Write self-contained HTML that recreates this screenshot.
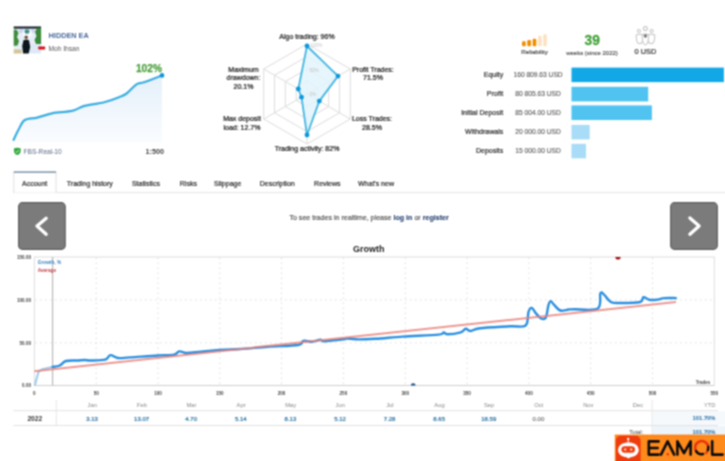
<!DOCTYPE html>
<html><head><meta charset="utf-8"><style>
html,body{margin:0;padding:0;background:#fff;}
body{width:725px;height:461px;overflow:hidden;position:relative;font-family:"Liberation Sans",sans-serif;}
svg{position:absolute;left:0;top:0;}
svg text{font-family:"Liberation Sans",sans-serif;}
</style></head><body>
<svg width="725" height="461" viewBox="0 0 725 461">
<filter id="gb" x="0" y="0" width="725" height="461" filterUnits="userSpaceOnUse" color-interpolation-filters="sRGB"><feConvolveMatrix order="3" kernelMatrix="1 2 1 2 4 2 1 2 1" divisor="16" edgeMode="duplicate" preserveAlpha="false"/></filter>
<g filter="url(#gb)">
<rect x="0" y="0" width="725" height="461" fill="#fff"/>
<defs>
<linearGradient id="mg" x1="0" y1="0" x2="0" y2="1"><stop offset="0" stop-color="#e4f0fa"/><stop offset="1" stop-color="#fafcff"/></linearGradient>
<linearGradient id="og" x1="0" y1="0" x2="1" y2="0"><stop offset="0" stop-color="#ff6a10"/><stop offset="1" stop-color="#ff8a1e"/></linearGradient>
</defs>
<!-- avatar -->
<defs><filter id="avb" x="-10%" y="-10%" width="120%" height="120%"><feGaussianBlur stdDeviation="0.7"/></filter>
<clipPath id="avc"><rect x="13.7" y="26.4" width="27.4" height="27"/></clipPath></defs>
<g clip-path="url(#avc)"><g filter="url(#avb)">
<rect x="12" y="25" width="31" height="30" fill="#e6eef7"/>
<rect x="12" y="25" width="31" height="3.6" fill="#151b2a"/>
<path d="M12,30 L16.5,29.5 L18.5,33 L17,37 L19,41 L17.5,45.5 L12,46 Z" fill="#3f8d3b"/>
<path d="M43,27.5 L37,28 L35,32 L36.5,36 L34.5,40 L36,44 L43,44 Z" fill="#3b893a"/>
<ellipse cx="23" cy="31" rx="4.5" ry="2.2" fill="#c8d6ea"/>
<ellipse cx="31.5" cy="31" rx="3.5" ry="2.2" fill="#c8d6ea"/>
<ellipse cx="27.3" cy="33.5" rx="5" ry="4.5" fill="#f6f9fc"/>
<ellipse cx="27" cy="31.5" rx="2.5" ry="2.2" fill="#3a9088"/>
<rect x="12" y="49.5" width="9.5" height="5" fill="#d4c496"/>
<rect x="29.5" y="44" width="13.5" height="10" fill="#dde9f4"/>
<path d="M23.5,40.3 Q26.3,38.6 29,40.3 L30.2,47 L28.5,54 L23.2,54 L22.2,46 Z" fill="#0f121a"/>
<circle cx="26.2" cy="37.3" r="1.7" fill="#6e4e3a"/>
</g></g>
<rect x="38.2" y="46.6" width="7" height="2.8" rx="0.8" fill="#d8101c"/>
<text x="48.6" y="37.8" font-size="7.3" font-weight="700" fill="#4a6a9b">HIDDEN EA</text>
<text x="48.6" y="51.4" font-size="6.6" fill="#555">Moh Ihsan</text>
<!-- mini chart -->
<path d="M13.6,139.9 C14.4,138.2 16.7,132.8 18.6,129.5 C20.5,126.2 21.7,122.0 24.8,120.0 C27.9,118.0 32.7,118.7 37.2,117.6 C41.8,116.5 46.3,114.4 52.1,113.3 C57.9,112.2 66.6,112.1 72.0,110.9 C77.4,109.7 79.0,107.4 84.4,105.9 C89.8,104.5 98.4,103.7 104.2,102.2 C110.0,100.8 115.3,98.7 119.0,97.2 C122.7,95.8 123.7,95.7 126.6,93.5 C129.5,91.3 133.6,86.2 136.5,84.3 C139.4,82.4 139.8,83.8 144.0,82.3 C148.2,80.8 158.8,76.6 161.8,75.4 L161.8,142.5 L13.6,142.5 Z" fill="url(#mg)"/>
<path d="M13.6,139.9 C14.4,138.2 16.7,132.8 18.6,129.5 C20.5,126.2 21.7,122.0 24.8,120.0 C27.9,118.0 32.7,118.7 37.2,117.6 C41.8,116.5 46.3,114.4 52.1,113.3 C57.9,112.2 66.6,112.1 72.0,110.9 C77.4,109.7 79.0,107.4 84.4,105.9 C89.8,104.5 98.4,103.7 104.2,102.2 C110.0,100.8 115.3,98.7 119.0,97.2 C122.7,95.8 123.7,95.7 126.6,93.5 C129.5,91.3 133.6,86.2 136.5,84.3 C139.4,82.4 139.8,83.8 144.0,82.3 C148.2,80.8 158.8,76.6 161.8,75.4" fill="none" stroke="#3aaee0" stroke-width="2.2" stroke-linecap="round"/>
<circle cx="162" cy="75.4" r="2.3" fill="#1592dc"/>
<text x="162" y="71.8" text-anchor="end" font-size="10.2" font-weight="700" fill="#4da03f" stroke="#4da03f" stroke-width="0.25">102%</text>
<path d="M13.9,148.6 Q17.3,146.9 20.7,148.6 L20.7,150.8 Q20.5,154.2 17.3,155 Q14.1,154.2 13.9,150.8 Z" fill="#30a83a"/>
<path d="M15.6,151.3 L16.9,152.5 L18.9,150" fill="none" stroke="#dff5df" stroke-width="0.9"/>
<text x="23.6" y="153.7" font-size="6.6" fill="#5b6785">FBS-Real-10</text>
<text x="164" y="154.3" text-anchor="end" font-size="7.2" font-weight="700" fill="#444">1:500</text>
<!-- radar -->
<polygon points="307.0,44.0 350.3,69.0 350.3,119.0 307.0,144.0 263.7,119.0 263.7,69.0" fill="none" stroke="#dcdcdc" stroke-width="1"/><polygon points="307.0,56.5 339.5,75.2 339.5,112.8 307.0,131.5 274.5,112.8 274.5,75.2" fill="none" stroke="#dcdcdc" stroke-width="1"/><polygon points="307.0,69.0 328.7,81.5 328.7,106.5 307.0,119.0 285.3,106.5 285.3,81.5" fill="none" stroke="#dcdcdc" stroke-width="1"/><polygon points="307.0,81.5 317.8,87.8 317.8,100.2 307.0,106.5 296.2,100.2 296.2,87.8" fill="none" stroke="#dcdcdc" stroke-width="1"/><line x1="307" y1="94" x2="307.0" y2="44.0" stroke="#dcdcdc" stroke-width="1"/><line x1="307" y1="94" x2="350.3" y2="69.0" stroke="#dcdcdc" stroke-width="1"/><line x1="307" y1="94" x2="350.3" y2="119.0" stroke="#dcdcdc" stroke-width="1"/><line x1="307" y1="94" x2="307.0" y2="144.0" stroke="#dcdcdc" stroke-width="1"/><line x1="307" y1="94" x2="263.7" y2="119.0" stroke="#dcdcdc" stroke-width="1"/><line x1="307" y1="94" x2="263.7" y2="69.0" stroke="#dcdcdc" stroke-width="1"/>
<polygon points="307.0,46.0 338.0,76.1 319.3,101.1 307.0,135.0 301.5,97.2 298.3,89.0" fill="#e2f4fc" fill-opacity="0.85" stroke="#45b6e0" stroke-width="1.8" stroke-linejoin="round"/>
<g font-size="4.6" fill="#c4c4c4" text-anchor="start"><text x="310.5" y="46.5">100%</text><text x="309.5" y="72">50%</text><text x="309.5" y="95.5">0%</text></g>
<circle cx="307.0" cy="46.0" r="2.4" fill="#0b98dd"/><circle cx="338.0" cy="76.1" r="2.4" fill="#0b98dd"/><circle cx="319.3" cy="101.1" r="2.4" fill="#0b98dd"/><circle cx="307.0" cy="135.0" r="2.4" fill="#0b98dd"/><circle cx="301.5" cy="97.2" r="2.4" fill="#0b98dd"/><circle cx="298.3" cy="89.0" r="2.4" fill="#0b98dd"/>
<g font-size="7" fill="#222" stroke="#222" stroke-width="0.24" text-anchor="middle">
<text x="307" y="38.5">Algo trading: 96%</text>
<text x="243.5" y="72">Maximum</text><text x="243.5" y="80.2">drawdown:</text><text x="243.5" y="89">20.1%</text>
<text x="242" y="120.5">Max deposit</text><text x="242" y="129.5">load: 12.7%</text>
<text x="373" y="72">Profit Trades:</text><text x="373" y="80.2">71.5%</text>
<text x="372" y="120.5">Loss Trades:</text><text x="372" y="129.5">28.5%</text>
<text x="307" y="150.5">Trading activity: 82%</text>
</g>
<!-- reliability -->
<g>
<rect x="522" y="41.3" width="3.7" height="4.9" rx="1.2" fill="#f08c00"/>
<rect x="527.3" y="40" width="3.7" height="6.2" rx="1.2" fill="#f08c00"/>
<rect x="532.6" y="38.7" width="3.7" height="7.5" rx="1.2" fill="#f08c00"/>
<rect x="538" y="35.8" width="3.7" height="10.4" rx="1.2" fill="#fde2c2"/>
<rect x="543.2" y="34.2" width="3.7" height="12" rx="1.2" fill="#fde2c2"/>
</g>
<text x="534.5" y="54.2" text-anchor="middle" font-size="6.2" fill="#444" stroke="#444" stroke-width="0.15">Reliability</text>
<text x="592.3" y="45.4" text-anchor="middle" font-size="13.8" font-weight="700" fill="#43a13a" stroke="#43a13a" stroke-width="0.3">39</text>
<text x="592" y="54.5" text-anchor="middle" font-size="6" fill="#444" stroke="#444" stroke-width="0.12">weeks (since 2022)</text>
<g fill="none" stroke="#c4c4c4" stroke-width="1.05">
<circle cx="645.4" cy="28.6" r="2"/>
<circle cx="638.9" cy="31" r="1.55"/>
<circle cx="651.6" cy="31" r="1.55"/>
<path d="M636.2,35 Q639.8,33.6 643.2,35 C643.2,40 641.8,43.8 639.7,43.8 C637.6,43.8 636.2,40 636.2,35 Z"/>
<path d="M647.6,35 Q651.2,33.6 654.8,35 C654.8,40 653.4,43.8 651.2,43.8 C649,43.8 647.6,40 647.6,35 Z"/>
<path d="M642.2,34.8 Q645.4,33.4 648.6,34.8 C648.6,40.5 647.4,44.8 645.4,44.8 C643.4,44.8 642.2,40.5 642.2,34.8 Z" fill="#fff"/>
</g>
<circle cx="645.4" cy="36" r="1.7" fill="#777"/>
<text x="645.5" y="54.3" text-anchor="middle" font-size="7.4" fill="#333" stroke="#333" stroke-width="0.2">0 USD</text>
<!-- bars -->
<g font-size="7" fill="#333" stroke="#333" stroke-width="0.22" text-anchor="end">
<text x="503.2" y="77.2">Equity</text><text x="503.2" y="96.3">Profit</text><text x="503.2" y="115">Initial Deposit</text><text x="503.2" y="134">Withdrawals</text><text x="503.2" y="153">Deposits</text>
</g>
<g font-size="6.65" fill="#555" stroke="#555" stroke-width="0.1">
<text x="513.5" y="77.2">160 809.63 USD</text><text x="515.3" y="96.3">80 805.63 USD</text><text x="515.3" y="115">85 004.00 USD</text><text x="515.3" y="134">20 000.00 USD</text><text x="515.3" y="153">15 000.00 USD</text>
</g>
<rect x="571.5" y="67.6" width="152.4" height="14.5" fill="#12a8e8"/>
<rect x="571.5" y="86.8" width="76.7" height="14.6" fill="#50c3f0"/>
<rect x="571.5" y="105.4" width="80.4" height="14.6" fill="#50c3f0"/>
<rect x="571.5" y="124.9" width="18.2" height="14.5" fill="#a8dcf7"/>
<rect x="571.5" y="143.8" width="14.5" height="14.5" fill="#a8dcf7"/>
<!-- tabs -->
<line x1="13" y1="192.6" x2="725" y2="192.6" stroke="#e4e4e4" stroke-width="1"/>
<path d="M13.8,192.6 L13.8,172 L56,172 L56,192.6" fill="#fff" stroke="#e0e0e0" stroke-width="1"/>
<line x1="13.8" y1="172.2" x2="56" y2="172.2" stroke="#8fa3b8" stroke-width="1.7"/>
<g font-size="7" fill="#333" stroke="#333" stroke-width="0.24">
<text x="22" y="185.6">Account</text>
<text x="66.8" y="185.6">Trading history</text>
<text x="131.9" y="185.6">Statistics</text>
<text x="179.8" y="185.6">Risks</text>
<text x="214.1" y="185.6">Slippage</text>
<text x="259.7" y="185.6">Description</text>
<text x="314.1" y="185.6">Reviews</text>
<text x="358" y="185.6">What's new</text>
</g>
<!-- arrows -->
<rect x="18.6" y="202.7" width="46.6" height="46.6" rx="3.9" fill="#7b7b7b" stroke="#5e5e5e" stroke-width="1.2"/>
<path d="M46.2,218.2 L37,226.1 L46.2,234.2" fill="none" stroke="#fff" stroke-width="3.3" stroke-linecap="round" stroke-linejoin="round"/>
<rect x="670.7" y="202.7" width="46.6" height="46.6" rx="3.9" fill="#7b7b7b" stroke="#5e5e5e" stroke-width="1.2"/>
<path d="M689.9,217.9 L699.1,226 L689.9,234.2" fill="none" stroke="#fff" stroke-width="3.3" stroke-linecap="round" stroke-linejoin="round"/>
<text x="289.4" y="220.1" font-size="7.1" fill="#444" stroke="#444" stroke-width="0.12">To see trades in realtime, please <tspan fill="#1d3f7a" font-weight="700">log in</tspan> or <tspan fill="#1d3f7a" font-weight="700">register</tspan></text>
<text x="368.8" y="252" text-anchor="middle" font-size="9" font-weight="700" fill="#222">Growth</text>
<!-- main chart -->
<rect x="34.4" y="257" width="679.9" height="128.5" fill="none" stroke="#dedede" stroke-width="1"/>
<line x1="96.2" y1="257.5" x2="96.2" y2="385" stroke="#dadada" stroke-width="0.9" stroke-dasharray="1.6,3.4"/><line x1="158.0" y1="257.5" x2="158.0" y2="385" stroke="#dadada" stroke-width="0.9" stroke-dasharray="1.6,3.4"/><line x1="219.8" y1="257.5" x2="219.8" y2="385" stroke="#dadada" stroke-width="0.9" stroke-dasharray="1.6,3.4"/><line x1="281.6" y1="257.5" x2="281.6" y2="385" stroke="#dadada" stroke-width="0.9" stroke-dasharray="1.6,3.4"/><line x1="343.4" y1="257.5" x2="343.4" y2="385" stroke="#dadada" stroke-width="0.9" stroke-dasharray="1.6,3.4"/><line x1="405.3" y1="257.5" x2="405.3" y2="385" stroke="#dadada" stroke-width="0.9" stroke-dasharray="1.6,3.4"/><line x1="467.1" y1="257.5" x2="467.1" y2="385" stroke="#dadada" stroke-width="0.9" stroke-dasharray="1.6,3.4"/><line x1="528.9" y1="257.5" x2="528.9" y2="385" stroke="#dadada" stroke-width="0.9" stroke-dasharray="1.6,3.4"/><line x1="590.7" y1="257.5" x2="590.7" y2="385" stroke="#dadada" stroke-width="0.9" stroke-dasharray="1.6,3.4"/><line x1="652.5" y1="257.5" x2="652.5" y2="385" stroke="#dadada" stroke-width="0.9" stroke-dasharray="1.6,3.4"/><line x1="35" y1="299.9" x2="714" y2="299.9" stroke="#dadada" stroke-width="0.9" stroke-dasharray="1.6,3.4"/><line x1="35" y1="342.9" x2="714" y2="342.9" stroke="#dadada" stroke-width="0.9" stroke-dasharray="1.6,3.4"/>
<line x1="34.4" y1="385.5" x2="714.3" y2="385.5" stroke="#cfcfcf" stroke-width="1"/>
<line x1="52.6" y1="257" x2="52.6" y2="385.5" stroke="#b4b4b4" stroke-width="1.1"/>
<g font-size="4.6" font-weight="700" fill="#444"><text x="31" y="258.8" text-anchor="end">150.00</text><text x="31" y="301.7" text-anchor="end">100.00</text><text x="31" y="344.7" text-anchor="end">50.00</text><text x="31" y="387.3" text-anchor="end">0.00</text></g>
<g font-size="4.6" font-weight="700" fill="#444"><text x="34.4" y="394.5" text-anchor="middle">0</text><text x="96.2" y="394.5" text-anchor="middle">50</text><text x="158.0" y="394.5" text-anchor="middle">100</text><text x="219.8" y="394.5" text-anchor="middle">150</text><text x="281.6" y="394.5" text-anchor="middle">200</text><text x="343.4" y="394.5" text-anchor="middle">250</text><text x="405.3" y="394.5" text-anchor="middle">300</text><text x="467.1" y="394.5" text-anchor="middle">350</text><text x="528.9" y="394.5" text-anchor="middle">400</text><text x="590.7" y="394.5" text-anchor="middle">450</text><text x="652.5" y="394.5" text-anchor="middle">500</text><text x="714.3" y="394.5" text-anchor="middle">550</text></g>
<text x="37.7" y="264.2" font-size="4.75" fill="#3a82c0" font-weight="700">Growth, %</text>
<text x="37.7" y="272" font-size="4.7" fill="#c0404a" font-weight="700">Average</text>
<text x="710.2" y="383.5" text-anchor="end" font-size="4.5" font-weight="700" fill="#444">Trades</text>
<path d="M34.9,385 C36,382 37.5,373.5 39.2,371 C41.5,369.3 44,368.6 46.6,368.2 L52.6,366.9" stroke="#9ccaf0" stroke-width="2" fill="none" stroke-linecap="round"/>
<path d="M52.6,366.9 C53.8,366.7 57.5,366.5 59.7,365.5 C61.9,364.5 63.0,361.8 65.9,361.0 C68.8,360.2 74.0,360.7 77.2,360.5 C80.4,360.3 82.8,360.0 85.0,360.0 C87.2,360.0 87.3,360.6 90.7,360.5 C94.1,360.4 101.9,360.5 105.2,359.6 C108.5,358.7 108.3,355.4 110.4,355.1 C112.5,354.8 114.5,357.6 117.8,358.0 C121.1,358.4 123.4,357.8 130.0,357.4 C136.6,357.0 150.2,355.9 157.6,355.5 C164.9,355.1 170.5,355.4 174.1,354.7 C177.7,354.0 177.2,351.7 179.1,351.4 C180.9,351.1 183.5,352.6 185.2,352.8 C186.9,353.0 183.6,353.3 189.3,352.8 C195.1,352.3 211.2,350.6 219.7,350.0 C228.2,349.4 232.3,349.5 240.3,349.0 C248.3,348.5 258.2,347.5 267.9,346.8 C277.6,346.1 292.4,346.0 298.3,345.0 C304.2,344.0 300.9,341.4 303.2,340.9 C305.5,340.3 309.1,341.9 312.0,341.7 C314.9,341.5 318.3,339.9 320.3,339.8 C322.3,339.7 320.2,341.3 324.1,341.2 C328.0,341.1 339.5,339.8 343.4,339.3 C347.3,338.9 345.5,338.5 347.6,338.5 C349.7,338.5 351.3,339.2 355.9,339.3 C360.5,339.4 367.4,339.2 375.2,338.8 C383.0,338.4 392.2,337.3 402.8,336.6 C413.4,335.9 431.8,335.3 438.6,334.6 C445.4,333.9 442.1,332.4 443.6,332.4 C445.1,332.3 444.5,334.3 447.4,334.3 C450.2,334.3 457.6,333.3 460.7,332.4 C463.8,331.5 464.1,329.0 465.7,328.8 C467.3,328.6 467.9,331.1 470.3,331.0 C472.7,330.9 473.3,329.1 480.0,328.3 C486.7,327.5 502.7,326.8 510.3,326.3 C517.9,325.8 522.6,327.9 525.6,325.5 C528.6,323.1 527.5,314.7 528.5,311.8 C529.5,308.9 530.5,307.6 531.8,307.9 C533.0,308.2 534.5,311.7 536.0,313.4 C537.5,315.1 539.3,317.6 540.9,318.3 C542.5,319.0 544.5,319.9 545.8,317.7 C547.0,315.5 547.6,308.1 548.4,305.3 C549.2,302.5 549.8,301.2 550.7,301.1 C551.6,301.0 552.3,303.1 553.9,304.7 C555.5,306.3 557.9,309.7 560.4,310.5 C562.9,311.3 566.2,309.7 568.6,309.5 C571.0,309.3 570.1,309.3 575.0,309.2 C579.9,309.1 593.6,311.2 597.8,308.6 C602.0,306.0 599.3,295.6 600.4,293.3 C601.5,291.0 602.6,293.4 604.3,294.9 C606.0,296.3 608.1,300.6 610.8,302.0 C613.5,303.4 615.7,303.0 620.6,303.0 C625.5,303.0 636.3,303.0 640.1,302.0 C643.9,301.0 641.9,297.6 643.4,297.2 C644.9,296.8 647.0,299.4 649.2,299.8 C651.4,300.2 653.9,300.1 656.4,299.8 C658.9,299.5 661.2,298.4 664.5,298.1 C667.8,297.8 674.0,298.1 675.9,298.1" fill="none" stroke="#2a8fe0" stroke-width="2.4" stroke-linejoin="round" stroke-linecap="round"/>
<line x1="34.4" y1="371.2" x2="675.9" y2="302" stroke="#e8807a" stroke-width="2" stroke-opacity="0.82"/>
<path d="M410.8,385.6 A2.4,2.4 0 0 1 415.6,385.6 Z" fill="#1a4f8f"/>
<path d="M615.4,257 A2.6,2.6 0 0 0 620.6,257 Z" fill="#a01010"/>
<!-- table -->
<rect x="652.5" y="411.2" width="72.5" height="13.8" fill="#f6f9fc"/>
<rect x="652.5" y="426" width="72.5" height="10" fill="#edf4fa"/>
<line x1="13.3" y1="410.7" x2="718" y2="410.7" stroke="#e2e2e2" stroke-width="1"/>
<line x1="13.3" y1="425.5" x2="718" y2="425.5" stroke="#e2e2e2" stroke-width="1"/>
<line x1="56.3" y1="399.9" x2="56.3" y2="425.5" stroke="#e6e6e6" stroke-width="1"/>
<line x1="652.1" y1="399.9" x2="652.1" y2="436" stroke="#e6e6e6" stroke-width="1"/>
<g font-size="5.8" fill="#888" text-anchor="middle"><text x="92.3" y="407">Jan</text><text x="141.9" y="407">Feb</text><text x="191.5" y="407">Mar</text><text x="241.1" y="407">Apr</text><text x="290.7" y="407">May</text><text x="340.3" y="407">Jun</text><text x="389.9" y="407">Jul</text><text x="439.5" y="407">Aug</text><text x="489.1" y="407">Sep</text><text x="538.7" y="407">Oct</text><text x="588.3" y="407">Nov</text><text x="637.9" y="407">Dec</text></g>
<text x="715.5" y="407" text-anchor="end" font-size="5.8" fill="#888">YTD</text>
<text x="34.8" y="420.5" text-anchor="middle" font-size="6.6" font-weight="700" fill="#333">2022</text>
<g font-size="6" fill="#1f6c9e" stroke="#1f6c9e" stroke-width="0.18" text-anchor="middle"><text x="92.0" y="420.5">3.13</text><text x="141.6" y="420.5">13.07</text><text x="191.2" y="420.5">4.70</text><text x="240.8" y="420.5">5.14</text><text x="290.4" y="420.5">8.13</text><text x="340.0" y="420.5">5.12</text><text x="389.6" y="420.5">7.28</text><text x="439.2" y="420.5">8.65</text><text x="488.8" y="420.5">18.59</text><text x="538.4" y="420.5" fill="#777" stroke="#777">0.00</text></g>
<text x="715.5" y="420" text-anchor="end" font-size="5.8" fill="#1f6aa5" font-weight="700">101.70%</text>
<text x="643.2" y="434.2" text-anchor="end" font-size="5.8" fill="#444">Total:</text>
<text x="715.5" y="434.2" text-anchor="end" font-size="5.8" fill="#1f6aa5" font-weight="700">101.70%</text>
<!-- logo -->
<rect x="614.8" y="434.8" width="110.2" height="26.2" fill="#ff8a1c"/>
<rect x="614.8" y="434.8" width="110.2" height="1" fill="#ff7a10"/>
<rect x="615.8" y="435.8" width="24.9" height="30" rx="5" fill="#ef3c0e"/>
<circle cx="628.2" cy="438.9" r="1.15" fill="#fff"/>
<line x1="628.2" y1="439" x2="628.2" y2="443" stroke="#fff" stroke-width="0.9"/>
<path d="M618,450 C618.5,444.5 623,442.4 628.4,442.4 C633.8,442.4 638.3,444.5 638.8,450 C638.4,454.8 634.5,456.8 630.5,457.2 L628.5,458.4 L626.4,457.2 C622.3,456.8 618.4,454.8 618,450 Z" fill="#fff"/>
<rect x="621.4" y="446.2" width="13.6" height="6.6" rx="3.3" fill="#ef3c0e"/>
<circle cx="625.2" cy="449.5" r="1.1" fill="#fff6d8"/><circle cx="631.2" cy="449.5" r="1.1" fill="#fff6d8"/>
<g fill="none" stroke="#0c0c0c" stroke-width="2.6" stroke-linecap="round" stroke-linejoin="round">
<path d="M658.6,441.4 L648.8,441.4 L648.8,454.6 L658.6,454.6 M648.8,448 L657.6,448"/>
<path d="M661,454.6 L667.6,441.4 L674.2,454.6"/>
<path d="M677.4,454.6 L677.4,441.4 L684,453.2 L690.6,441.4 L690.6,454.6"/>
<path d="M712.2,441.2 L712.2,454.6 L722.6,454.6"/>
</g>
<path d="M696.29,451.39 A6.6,6.6 0 1 1 708.08,445.89" fill="none" stroke="#e8320c" stroke-width="2.5" stroke-linecap="round"/>
<path d="M703.07,454.06 A6.6,6.6 0 0 1 696.10,451.10" fill="none" stroke="#0c0c0c" stroke-width="2.5" stroke-linecap="round"/>
<path d="M708.24,446.68 A6.6,6.6 0 0 1 707.68,450.39" fill="none" stroke="#0c0c0c" stroke-width="2.4" stroke-linecap="round"/>
<circle cx="706.3" cy="452.8" r="1.35" fill="#e8320c"/>
<circle cx="667.8" cy="454.3" r="1.2" fill="#e8320c"/>
</g></svg>
</body></html>
